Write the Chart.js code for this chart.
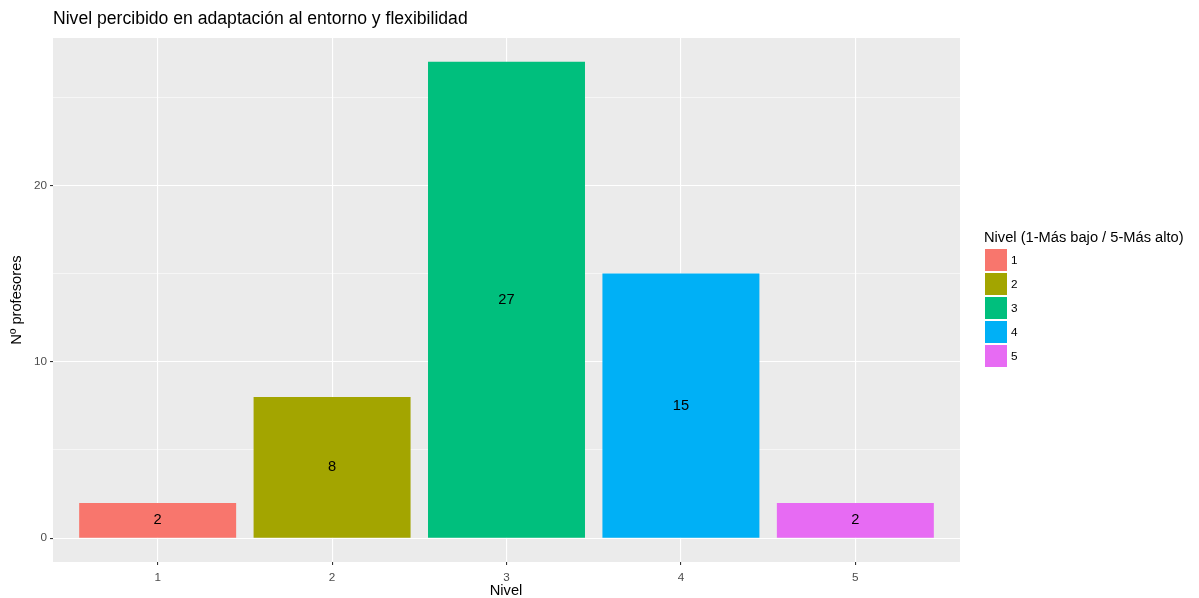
<!DOCTYPE html>
<html>
<head>
<meta charset="utf-8">
<script src="https://cdn.jsdelivr.net/npm/chart.js@4/dist/chart.umd.min.js"></script>
<style>
    body { margin: 0; background: #fff; font-family: "Liberation Sans", Arial, sans-serif; }
    #wrap { position: relative; width: 1199px; height: 598px; }
    canvas { position: absolute; left: 0; top: 0; }
    .txt { position: absolute; line-height: 1; white-space: nowrap; color: #000; }
    .key { position: absolute; width: 22px; height: 22px; }
</style>
</head>
<body>
<div id="wrap">
    <canvas id="chart-nivel" width="1199" height="598"></canvas>
    <div class="txt" style="left:53px; top:10px; font-size:17.6px;">Nivel percibido en adaptación al entorno y flexibilidad</div>
    <div class="txt" style="left:506px; top:590px; font-size:14.67px; transform:translate(-50%,-50%);">Nivel</div>
    <div id="legend"></div>
</div>
<script>
var categories = ['1', '2', '3', '4', '5'];
var values = [2, 8, 27, 15, 2];
var colors = ['#F8766D', '#A3A500', '#00BF7D', '#00B0F6', '#E76BF3'];
var yTicks = [0, 5, 10, 15, 20, 25];
var legendTitle = 'Nivel (1-Más bajo / 5-Más alto)';
var yTitle = 'Nº profesores';

$ = function(id) { return document.getElementById(id); };

function buildLegend() {
    var html = '<div class="txt" style="left:984px; top:237px; font-size:14.67px; transform:translateY(-50%);">' + legendTitle + '</div>';
    for (var i = 0; i < categories.length; i++) {
        var cy = 260 + i * 24;
        html += '<div class="key" style="left:985px; top:' + (cy - 11) + 'px; background:' + colors[i] + ';"></div>';
        html += '<div class="txt" style="left:1011px; top:' + cy + 'px; font-size:11.73px; transform:translateY(-50%);">' + categories[i] + '</div>';
    }
    $('legend').innerHTML = html;
}

// grey panel behind the bars + rotated y title
var panelBg = {
    id: 'panelBg',
    beforeDraw: function(chart) {
        var a = chart.chartArea, c = chart.ctx;
        c.save();
        c.fillStyle = '#EBEBEB';
        c.fillRect(a.left, a.top, a.right - a.left, a.bottom - a.top);
        c.restore();
    },
    afterDraw: function(chart) {
        var a = chart.chartArea, c = chart.ctx;
        c.save();
        c.translate(17, (a.top + a.bottom) / 2);
        c.rotate(-Math.PI / 2);
        c.font = '14.67px "Liberation Sans", Arial, sans-serif';
        c.fillStyle = '#000';
        c.textAlign = 'center';
        c.textBaseline = 'middle';
        c.fillText(yTitle, 0, 0);
        c.restore();
    }
};

// count in the middle of each bar
var barLabels = {
    id: 'barLabels',
    afterDatasetsDraw: function(chart) {
        var c = chart.ctx;
        c.save();
        c.font = '14.67px "Liberation Sans", Arial, sans-serif';
        c.fillStyle = '#000';
        c.textAlign = 'center';
        c.textBaseline = 'middle';
        chart.getDatasetMeta(0).data.forEach(function(bar, i) {
            c.fillText(values[i], bar.x, (bar.y + bar.base) / 2);
        });
        c.restore();
    }
};

function chart() {
    var ctx = $('chart-nivel');
    var points = values.map(function(v, i) { return { x: i + 1, y: v }; });
    var isMajor = function(v) { return v % 10 === 0; };

    new Chart(ctx, {
        type: 'bar',
        data: {
            datasets: [{
                data: points,
                backgroundColor: colors,
                borderWidth: 0,
                barPercentage: 0.9,
                categoryPercentage: 1.0
            }]
        },
        options: {
            responsive: false,
            animation: false,
            layout: { padding: { left: 0, right: 239, top: 38, bottom: 0 } },
            plugins: { legend: { display: false }, title: { display: false }, tooltip: { enabled: false } },
            scales: {
                x: {
                    type: 'linear',
                    min: 0.4,
                    max: 5.6,
                    offset: false,
                    afterBuildTicks: function(s) {
                        s.ticks = categories.map(function(c, i) { return { value: i + 1 }; });
                    },
                    afterFit: function(s) { s.height = 36; },
                    ticks: {
                        color: '#4D4D4D',
                        font: { size: 11.73, family: '"Liberation Sans", Arial, sans-serif' },
                        padding: 6,
                        maxRotation: 0,
                        callback: function(v) { return categories[v - 1]; }
                    },
                    grid: {
                        offset: false,
                        color: '#FFFFFF',
                        lineWidth: 1.1,
                        tickColor: '#333333',
                        tickLength: 3,
                        tickWidth: 1.1
                    },
                    border: { display: false }
                },
                y: {
                    min: -1.35,
                    max: 28.35,
                    afterBuildTicks: function(s) {
                        s.ticks = yTicks.map(function(v) { return { value: v }; });
                    },
                    afterFit: function(s) { s.width = 53; },
                    ticks: {
                        color: '#4D4D4D',
                        font: { size: 11.73, family: '"Liberation Sans", Arial, sans-serif' },
                        padding: 3,
                        callback: function(v) { return isMajor(v) ? v : ''; }
                    },
                    grid: {
                        color: '#FFFFFF',
                        lineWidth: function(c) { return c.tick && isMajor(c.tick.value) ? 1.1 : 0.55; },
                        tickColor: function(c) { return c.tick && isMajor(c.tick.value) ? '#333333' : 'rgba(0,0,0,0)'; },
                        tickLength: 3,
                        tickWidth: 1.1
                    },
                    border: { display: false }
                }
            }
        },
        plugins: [panelBg, barLabels]
    });
}

buildLegend();
chart();
</script>
</body>
</html>
